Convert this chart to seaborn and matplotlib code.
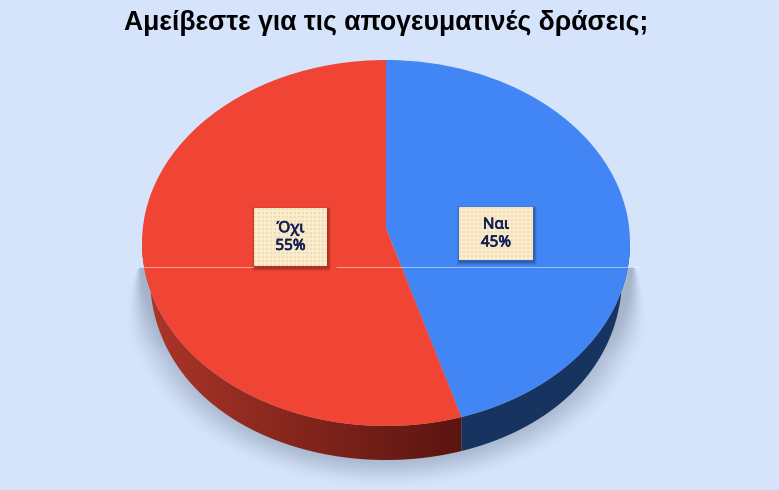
import numpy as np
import matplotlib
matplotlib.use("Agg")
import matplotlib.pyplot as plt
import matplotlib.patheffects as pe
from matplotlib.patches import Polygon, Rectangle
import seaborn as sns

title = "Αμείβεστε για τις απογευματινές δράσεις;"
categories = ["Ναι", "Όχι"]
shares = [45, 55]
colors = ["#4285f4", "#f04534"]

W, H = 779, 490
BG = "#d6e4fb"
sns.set_theme(style="white")
plt.rcParams["font.family"] = ["Liberation Sans", "DejaVu Sans"]

fig = plt.figure(figsize=(W / 100, H / 100), dpi=100, facecolor=BG)
base = fig.add_axes([0, 0, 1, 1])
base.axis("off")

cx, cy, a, b = 386, 243, 244, 183
depth = 34
apex_shift = 15  # perspective: visual hub sits above the ellipse centre

# ground shadow: sharp at the baseline, softer further down
yy, xx = np.mgrid[267:490, 100:680]
half_w = 254 + np.clip(yy - 267, 0, 70) * 0.17
r = np.sqrt(((xx - cx) / half_w) ** 2 + ((yy - 300) / 190.0) ** 2)
ramp = 0.02 + 0.18 * np.clip((yy - 267) / 90.0, 0, 1)
t = np.clip((1.0 - r) / ramp, 0, 1)
rgba = np.zeros(xx.shape + (4,))
rgba[..., :3] = matplotlib.colors.to_rgb("#55647c")
rgba[..., 3] = 0.38 * t * t * (3 - 2 * t)
base.imshow(rgba, extent=(100, 680, 490, 267), aspect="auto", zorder=1, interpolation="bilinear")

# side wall
split = 360 * shares[0] / sum(shares)


def wall(t0, t1):
    th = np.radians(np.linspace(t0, t1, 160))
    s = np.sin(th)
    top_edge = np.c_[cx + a * s, cy - b * np.cos(th)]
    low_edge = np.c_[cx + a * s - 8 * np.sign(s) * s ** 4, cy - b * np.cos(th) + depth]
    return np.vstack([top_edge, low_edge[::-1]])


blue_wall = Polygon(wall(90, split), closed=True, fc="#17335f", ec="none", zorder=2)
base.add_patch(blue_wall)
red_wall = Polygon(wall(split, 270), closed=True, fc="none", ec="none", zorder=2)
base.add_patch(red_wall)
grad = np.linspace(0, 1, 256)[None, :, None]
c0 = np.array(matplotlib.colors.to_rgb("#ad3629"))
c1 = np.array(matplotlib.colors.to_rgb("#5a1410"))
im = base.imshow(c0 + (c1 - c0) * grad, extent=(142, 463, 470, 240), aspect="auto", zorder=2)
im.set_clip_path(red_wall)
base.set_xlim(0, W)
base.set_ylim(H, 0)

# top face
top = fig.add_axes([(cx - a) / W, 1 - (cy + b) / H, 2 * a / W, 2 * b / H])
top.patch.set_alpha(0)
wedges, _ = top.pie(shares, colors=colors, startangle=90, counterclock=False, radius=1,
                    wedgeprops=dict(linewidth=0))
top.set_aspect("auto")
top.set_xlim(-1, 1)
top.set_ylim(-1, 1)
for w in wedges:
    p = w.get_path()
    v = p.vertices.copy()
    v[np.all(np.abs(v) < 1e-9, axis=1), 1] = apex_shift / b
    p.vertices = v

# overlay for baseline and labels
over = fig.add_axes([0, 0, 1, 1])
over.patch.set_alpha(0)
over.axis("off")
over.hlines(267, 135, 254, color="white", lw=0.7, alpha=0.5)
over.hlines(267, 336, 640, color="white", lw=0.7, alpha=0.5)


def label(x0, y0, x1, y1, text):
    for grow, al in ((3.0, 0.07), (2.0, 0.09), (1.0, 0.12)):
        over.add_patch(Rectangle((x0 + 1.5 - grow, y0 + 2 - grow), x1 - x0 + 2 * grow, y1 - y0 + 2 * grow,
                                 fc="#000000", alpha=al, ec="none", zorder=3))
    w, h = int(x1 - x0) * 2, int(y1 - y0) * 2
    yy, xx = np.mgrid[0:h, 0:w]
    pat = np.ones((h, w, 3)) * matplotlib.colors.to_rgb("#fbedcf")
    dots = ((xx % 8) < 4) & ((yy % 8) < 4)
    pat[dots] = matplotlib.colors.to_rgb("#efd9a8")
    over.imshow(pat, extent=(x0, x1, y1, y0), aspect="auto", zorder=4, interpolation="bilinear")
    over.text((x0 + x1) / 2, (y0 + y1) / 2 + 0.5, text, ha="center", va="center", zorder=5,
              fontsize=11, color="#101f55", family=["Noto Sans", "DejaVu Sans"], linespacing=1.25,
              path_effects=[pe.withStroke(linewidth=0.5, foreground="#101f55")])


label(459, 207, 533, 260, f"{categories[0]}\n{shares[0]}%")
label(254, 208, 327, 266, f"{categories[1]}\n{shares[1]}%")
over.set_xlim(0, W)
over.set_ylim(H, 0)

over.text(386, 22.5, title, ha="center", va="center", fontsize=19.1, fontweight="bold", color="black")

fig.savefig("out.png", dpi=100, facecolor=BG)
